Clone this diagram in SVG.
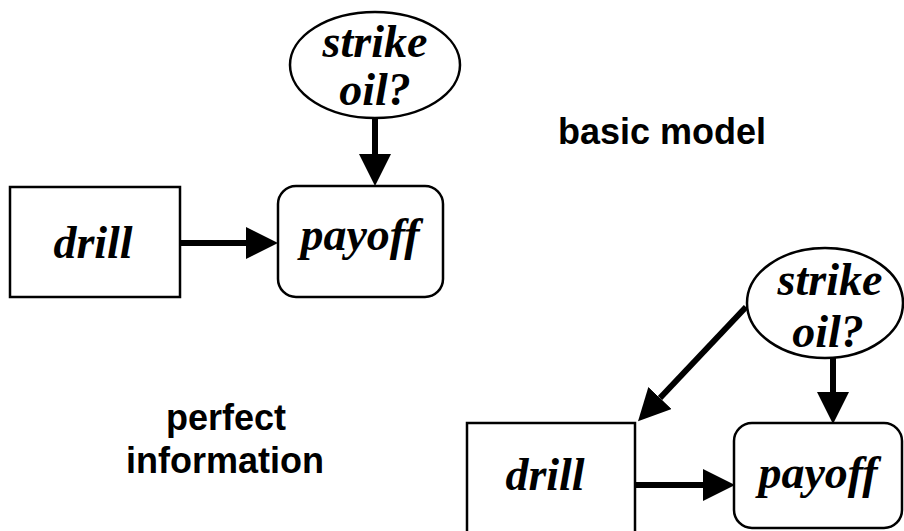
<svg xmlns="http://www.w3.org/2000/svg" width="904" height="531" viewBox="0 0 904 531">
<defs>
<style>
.box{fill:#fff;stroke:#000;stroke-width:2.5}
.lbl{font-family:"Liberation Serif","Times New Roman",serif;font-style:italic;font-weight:bold;font-size:46px;text-anchor:middle;fill:#000}
.cap{font-family:"Liberation Sans",Arial,sans-serif;font-weight:bold;font-size:36px;text-anchor:middle;fill:#000}
.edge{stroke:#000;stroke-width:6;fill:none}
</style>
<marker id="ah" viewBox="0 0 10 10" refX="0" refY="5" markerWidth="32" markerHeight="32" markerUnits="userSpaceOnUse" orient="auto">
<path d="M0,0 L10,5 L0,10 Z" fill="#000"/>
</marker>
</defs>
<rect width="904" height="531" fill="#fff"/>
<g id="connectors">
<line class="edge" x1="375" y1="118" x2="375" y2="154" marker-end="url(#ah)"/>
<line class="edge" x1="180" y1="243" x2="246" y2="243" marker-end="url(#ah)"/>
<line class="edge" x1="833" y1="358" x2="833" y2="392" marker-end="url(#ah)"/>
<line class="edge" x1="635" y1="485" x2="703" y2="485" marker-end="url(#ah)"/>
<line class="edge" x1="746" y1="307" x2="660" y2="398" marker-end="url(#ah)"/>
</g>
<g id="strike1">
<ellipse class="box" cx="375" cy="65" rx="85" ry="53"/>
<text class="lbl" x="375" y="57">strike</text>
<text class="lbl" x="375" y="105">oil?</text>
</g>
<g id="payoff1">
<rect class="box" x="278" y="186" width="165" height="111" rx="18"/>
<text class="lbl" x="360" y="250">payoff</text>
</g>
<g id="drill1">
<rect class="box" x="10" y="187" width="170" height="110"/>
<text class="lbl" x="93" y="258">drill</text>
</g>
<g id="strike2">
<ellipse class="box" cx="825" cy="303" rx="78" ry="55"/>
<text class="lbl" x="830" y="295">strike</text>
<text class="lbl" x="828" y="347">oil?</text>
</g>
<g id="payoff2">
<rect class="box" x="734" y="423" width="168" height="105" rx="18"/>
<text class="lbl" x="818" y="488">payoff</text>
</g>
<g id="drill2">
<rect class="box" x="467" y="423" width="168" height="130"/>
<text class="lbl" x="545" y="490">drill</text>
</g>
<g id="captions">
<text class="cap" x="662" y="144">basic model</text>
<text class="cap" x="226" y="430">perfect</text>
<text class="cap" x="225" y="473">information</text>
</g>
</svg>
